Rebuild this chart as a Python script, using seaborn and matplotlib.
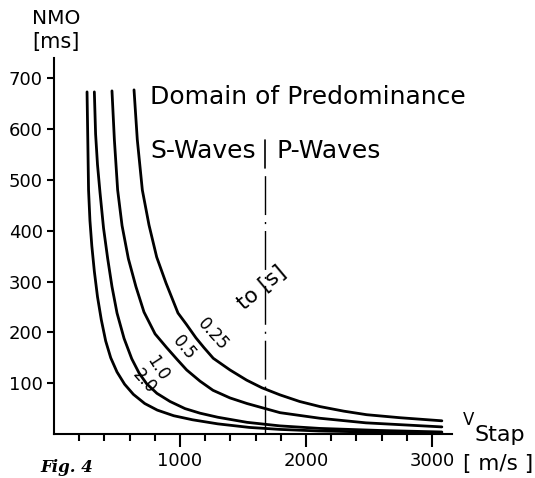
import pandas as pd
import matplotlib.pyplot as plt
import seaborn as sns

# NMO curves: stacking velocity [m/s] vs NMO [ms]
t0_labels = ["2.0", "1.0", "0.5", "0.25"]

v_20 = [262, 268, 274, 285, 300, 320, 345, 375, 410, 450, 500, 560, 630, 720,
        820, 950, 1100, 1300, 1550, 1800, 2100, 2500, 3079]
nmo_20 = [673, 579, 480, 420, 370, 320, 270, 225, 183, 150, 122, 98, 78, 60,
          47, 36, 28, 20, 13, 9, 6, 4, 2]

v_10 = [320, 330, 345, 365, 393, 426, 460, 500, 556, 617, 675, 735, 817, 921,
        1040, 1159, 1300, 1532, 1794, 2111, 2587, 3079]
nmo_10 = [673, 590, 530, 475, 405, 345, 290, 238, 188, 148, 120, 99, 80, 64,
          50, 41, 33, 23, 16, 11, 7, 4]

v_05 = [460, 479, 505, 540, 590, 650, 714, 802, 894, 976, 1053, 1159, 1262,
        1397, 1532, 1794, 2111, 2476, 3079]
nmo_05 = [675, 579, 480, 410, 345, 290, 240, 197, 170, 147, 126, 104, 86,
          71, 60, 42, 31, 22, 14]

v_025 = [635, 661, 701, 754, 815, 889, 984, 1050, 1127, 1190, 1264, 1397,
         1529, 1650, 1794, 1950, 2111, 2300, 2482, 2750, 3079]
nmo_025 = [677, 579, 480, 411, 348, 297, 238, 216, 189, 170, 149, 126,
           106, 91, 77, 64, 54, 45, 38, 32, 26]

y_ticks = [100, 200, 300, 400, 500, 600, 700]
x_major = [1000, 2000, 3000]
x_minor = [200, 400, 600, 800, 1200, 1400, 1600, 1800, 2200, 2400, 2600, 2800]

v_boundary = 1675  # S/P predominance boundary

frames = []
for lab, v, n in zip(t0_labels, [v_20, v_10, v_05, v_025],
                     [nmo_20, nmo_10, nmo_05, nmo_025]):
    frames.append(pd.DataFrame({"v": v, "nmo": n, "t0": lab}))
df = pd.concat(frames, ignore_index=True)

sns.set_theme(style="ticks", rc={"text.color": "black", "xtick.color": "black",
                                 "ytick.color": "black", "axes.edgecolor": "black"})
plt.rcParams['font.family'] = ['DejaVu Sans']

fig = plt.figure(figsize=(5.35, 4.78), dpi=100)
ax = fig.add_axes([0.101, 0.092, 0.744, 0.787])

sns.lineplot(data=df, x="v", y="nmo", hue="t0", palette=["black"] * 4,
             linewidth=2.0, legend=False, sort=False, estimator=None, ax=ax)

ax.set_xlim(0, 3160)
ax.set_ylim(0, 740)
ax.set_xlabel("")
ax.set_ylabel("")
sns.despine(ax=ax)
for s in ["left", "bottom"]:
    ax.spines[s].set_linewidth(1.5)

ax.set_yticks(y_ticks)
ax.set_yticklabels([str(t) for t in y_ticks], fontsize=13)
ax.set_xticks(x_major)
ax.set_xticklabels([str(t) for t in x_major], fontsize=13)
ax.set_xticks(x_minor, minor=True)
ax.tick_params(axis="y", length=5, width=1.5, pad=3)
ax.tick_params(axis="x", which="major", length=9, width=1.5, pad=4)
ax.tick_params(axis="x", which="minor", length=5, width=1.5)

# boundary line
ax.plot([v_boundary, v_boundary], [524, 579], color="black", lw=1.2)
ax.plot([v_boundary, v_boundary], [0, 512], color="black", lw=1.0,
        linestyle=(0, (28, 5, 1.5, 5)))

ax.text(762, 663, "Domain of Predominance", fontsize=18, va="center")
ax.text(762, 557, "S-Waves", fontsize=18, va="center")
ax.text(1770, 557, "P-Waves", fontsize=18, va="center")
ax.text(1650, 287, "to [s]", fontsize=15.5, rotation=40, ha="center", va="center")

# curve labels, just above-right of each curve
label_pos = {"2.0": (715, 104, -48), "1.0": (825, 130, -57),
             "0.5": (1035, 170, -50), "0.25": (1260, 196, -48)}
for lab, (x, y, r) in label_pos.items():
    ax.text(x, y, lab, fontsize=12, rotation=r, ha="center", va="center")

# axis titles
fig.text(0.105, 0.962, "NMO", fontsize=14.5, ha="center", va="center")
fig.text(0.105, 0.912, "[ms]", fontsize=15, ha="center", va="center")
ax.text(3246, 18, "V", fontsize=12, va="baseline", clip_on=False)
ax.text(3340, -14, "Stap", fontsize=16, va="baseline", clip_on=False)
ax.text(3246, -71, "[ m/s ]", fontsize=15.5, va="baseline", clip_on=False)

fig.text(0.075, 0.004, "Fig. 4", fontsize=12, fontweight="bold",
         fontstyle="italic", family="DejaVu Serif", va="bottom")

fig.savefig("out.png", dpi=100)
